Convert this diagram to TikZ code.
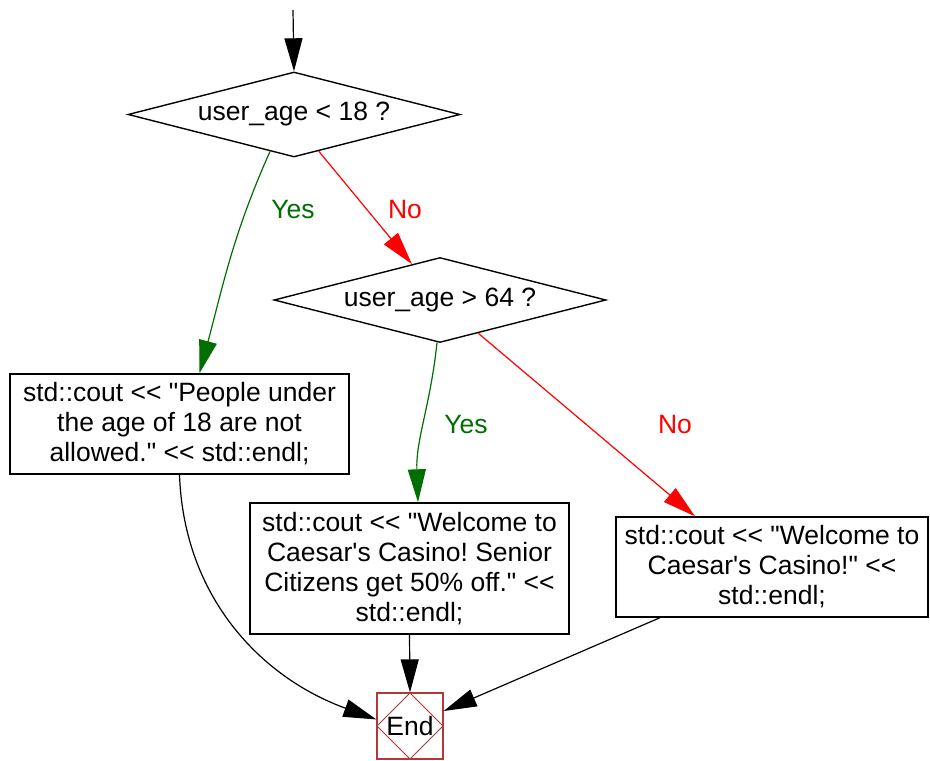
\documentclass[tikz,border=0pt]{standalone}
\usepackage{fontspec}
\newfontfamily\flowfont{Liberation Sans}
\usetikzlibrary{shapes.geometric,arrows.meta,positioning}
\definecolor{yesgreen}{RGB}{0,110,0}
\definecolor{nored}{RGB}{255,0,0}
\definecolor{endred}{RGB}{176,56,56}
\frenchspacing

\begin{document}
\begin{tikzpicture}[
    x=1pt, y=1pt,
    font=\flowfont\fontsize{26.5}{30}\selectfont,
    decision/.style={diamond, draw, line width=1.4pt, aspect=3.9, inner sep=0pt, minimum width=332pt, minimum height=85pt},
    block/.style={rectangle, draw, line width=1.4pt, align=center, inner sep=2pt},
    terminal/.style={rectangle, draw=endred, line width=1.2pt, minimum size=66pt, inner sep=0pt,
        path picture={\draw[endred, line width=1pt] (path picture bounding box.north) -- (path picture bounding box.east)
            -- (path picture bounding box.south) -- (path picture bounding box.west) -- cycle;}},
    flow/.style={-{Triangle[length=33pt,width=18pt]}, line width=1.2pt},
    yes/.style={flow, draw=yesgreen},
    no/.style={flow, draw=nored}
]
\useasboundingbox (0,0) rectangle (930,761);

\coordinate (entry) at (293,751);
\node[decision] (cond1) at (294,646.5) {user\_age < 18 ?};
\node[decision] (cond2) at (440,461) {user\_age > 64 ?};
\node[block, minimum width=339pt, minimum height=100pt] (refuse) at (179.5,337)
    {std::cout << "People under\\the age of 18 are not\\allowed." << std::endl;};
\node[block, minimum width=319pt, minimum height=131pt] (senior) at (409.5,192.5)
    {std::cout << "Welcome to\\Caesar's Casino! Senior\\Citizens get 50\% off." <<\\std::endl;};
\node[block, minimum width=312pt, minimum height=100pt] (welcome) at (772,194)
    {std::cout << "Welcome to\\Caesar's Casino!" <<\\std::endl;};
\node[terminal] (finish) at (410,35) {End};

\node[text=yesgreen] (yes1) at (293,551) {Yes};
\node[text=nored] (no1) at (405,551) {No};
\node[text=yesgreen] (yes2) at (466,336) {Yes};
\node[text=nored] (no2) at (675,336) {No};

\draw[flow] (entry) -- (cond1.north);
\draw[yes] (cond1.-123) to[out=-114, in=75] ([xshift=20pt]refuse.north);
\draw[no] (cond1.-56) -- (cond2.128);
\draw[yes] (cond2.-94) to[out=-96, in=92] ([xshift=8.5pt]senior.north);
\draw[no] (cond2.-41) -- ([xshift=-77pt]welcome.north);
\draw[flow] (refuse.south) to[out=-88, in=160] (finish.169);
\draw[flow] (senior.south) -- (finish.north);
\draw[flow] ([xshift=-112pt]welcome.south) -- (finish.24);

\end{tikzpicture}
\end{document}
